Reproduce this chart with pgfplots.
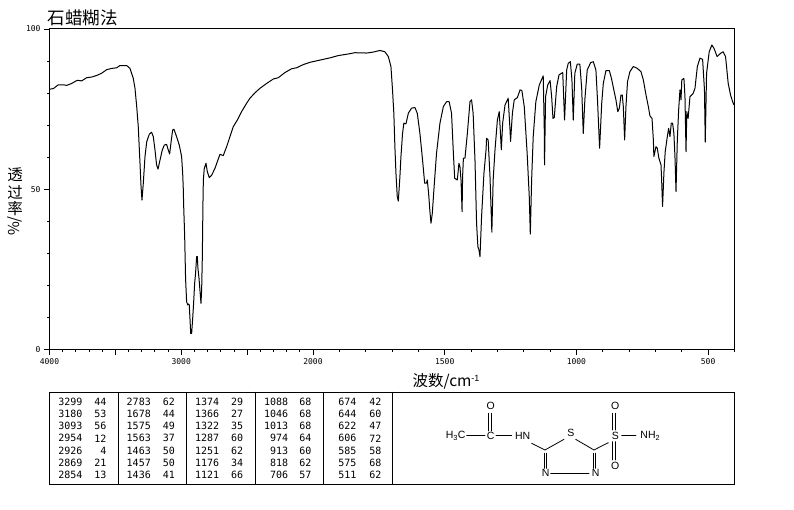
\documentclass[border=0pt]{standalone}
\usepackage{fontspec}
\setmainfont{Liberation Sans}
\setmonofont{DejaVu Sans Mono}
\newfontfamily\cjk{Noto Sans CJK SC}
\usepackage{pgfplots}
\usepackage{pgfplotstable}
\pgfplotsset{compat=1.18}

% wavenumber, %T
\pgfplotstableread{
w T
4000 81.2
3971 81.4
3933 82.6
3895 82.6
3870 82.4
3832 83.0
3789 84.0
3756 83.8
3718 84.8
3680 85.0
3642 85.5
3604 86.2
3566 87.3
3528 87.7
3490 87.9
3465 88.6
3414 88.6
3389 87.7
3364 84.6
3351 81.5
3338 75.8
3326 69.5
3313 58.1
3305 50.8
3298 46.6
3288 51.8
3275 60.2
3262 64.8
3242 67.2
3225 67.8
3212 66.4
3199 62.2
3187 57.6
3176 56.3
3161 59.1
3144 62.2
3128 63.8
3111 64.0
3098 62.2
3088 61.0
3075 65.4
3065 68.5
3055 68.7
3035 66.4
3015 63.8
2997 60.2
2989 55.0
2984 49.8
2982 45.6
2974 35.7
2967 22.2
2959 14.9
2951 13.9
2946 14.2
2939 13.9
2933 9.2
2928 5.0
2921 5.0
2913 9.7
2906 14.4
2898 20.7
2891 23.8
2883 29.0
2878 29.0
2873 25.3
2865 22.2
2858 18.6
2850 14.4
2845 18.6
2840 28.4
2835 45.6
2832 52.9
2825 56.5
2812 58.1
2802 55.5
2787 53.6
2769 54.4
2744 56.5
2726 58.6
2706 60.9
2681 60.5
2655 63.3
2630 66.4
2605 69.5
2574 71.6
2542 74.2
2504 76.8
2478 78.4
2440 80.1
2402 81.5
2352 83.0
2301 84.4
2263 84.8
2213 86.4
2162 87.6
2124 87.9
2073 88.9
2023 89.6
1973 90.3
1935 91.0
1904 91.7
1866 92.2
1841 92.6
1796 92.5
1771 92.8
1746 93.3
1727 92.9
1714 91.4
1704 88.3
1698 81.0
1693 73.7
1689 63.3
1685 55.0
1680 47.7
1676 46.3
1670 53.9
1666 60.2
1660 67.4
1655 70.6
1647 70.4
1638 73.7
1626 75.3
1613 75.5
1604 73.7
1594 67.4
1584 59.1
1576 51.9
1569 51.9
1566 52.9
1561 48.7
1556 43.0
1552 39.4
1547 42.5
1541 49.8
1531 61.2
1518 70.6
1505 75.8
1493 77.3
1483 77.3
1474 73.7
1467 61.2
1462 53.4
1452 52.9
1446 58.1
1442 57.0
1438 52.9
1434 43.0
1432 53.9
1429 59.7
1423 59.7
1414 67.4
1404 77.3
1398 77.9
1392 73.7
1385 59.1
1379 39.4
1374 32.1
1370 31.1
1366 29.0
1360 41.4
1351 55.0
1343 62.3
1341 65.9
1335 65.4
1328 53.9
1321 36.6
1316 52.9
1309 62.3
1300 71.6
1293 74.2
1289 68.5
1285 62.3
1280 70.6
1271 76.3
1259 78.4
1252 68.5
1250 64.9
1243 73.7
1236 77.9
1224 78.6
1214 81.0
1207 80.8
1198 75.8
1187 61.2
1179 47.7
1175 36.0
1170 52.9
1164 66.4
1154 77.3
1141 82.5
1126 85.4
1122 68.5
1121 57.6
1117 78.9
1109 82.5
1100 83.9
1094 78.9
1089 72.1
1084 72.4
1075 82.0
1066 85.7
1052 86.4
1045 71.6
1037 87.2
1031 89.3
1023 89.8
1017 84.1
1012 71.6
1006 86.2
997 89.0
987 89.0
980 81.5
974 67.4
968 77.9
959 87.2
946 89.5
936 89.8
926 87.2
920 77.9
912 62.8
904 76.8
898 83.0
888 87.0
875 87.0
867 84.6
858 81.0
850 77.9
843 74.2
837 75.3
831 79.4
826 79.4
822 75.8
817 65.4
812 75.8
806 83.6
797 86.7
784 88.3
769 87.7
755 86.7
746 84.1
737 79.9
727 75.8
721 72.9
713 72.1
708 65.4
706 60.2
698 63.3
693 62.8
687 59.7
679 57.6
677 53.9
673 44.6
668 55.0
663 61.7
655 66.4
650 69.0
645 66.4
640 70.6
635 70.6
630 67.4
626 60.2
622 49.3
617 65.4
612 74.7
607 81.0
603 77.9
600 84.1
592 84.6
588 78.9
584 61.7
581 74.2
576 72.1
569 78.9
557 79.9
550 81.5
541 88.3
531 90.9
521 90.5
514 81.0
511 64.7
506 86.2
496 92.9
486 95.0
478 94.0
466 91.4
453 92.4
443 92.9
434 91.4
424 83.1
415 79.4
407 77.3
402 76.3
}\irtrace

\begin{document}
\begin{tikzpicture}[x=1pt,y=1pt,line cap=round]
\path[use as bounding box] (0,0) rectangle (794,510);
\begin{axis}[
	at={(49.5pt,160.5pt)},
	anchor=south west,
	scale only axis,
	width=685pt,
	height=320.5pt,
	x dir=reverse,
	% the scale is twice as wide below 2000
	x coord trafo/.code={\pgfmathparse{#1>2000?#1:2*#1-2000}},
	xmin=400, xmax=4000,
	ymin=0, ymax=100,
	xtick={4000,3500,3000,2500,2000,1500,1000,500},
	xticklabels={4000,,3000,,2000,1500,1000,500},
	minor xtick={3900,3800,3700,3600,3400,3300,3200,3100,2900,2800,2700,2600,2400,2300,2200,2100,1900,1800,1700,1600,1400,1300,1200,1100,900,800,700,600,400},
	ytick={0,50,100},
	yticklabels={0,50,100},
	minor ytick={10,20,30,40,60,70,80,90},
	xtick pos=bottom,
	ytick pos=left,
	tick align=outside,
	major tick length=5.5pt,
	minor tick length=2.5pt,
	tick style={black,line width=0.8pt},
	axis line style={line width=1pt},
	tick label style={font=\fontsize{8}{8}\selectfont\ttfamily},
	xticklabel style={yshift=-0.5pt},
]
\addplot[black,line width=1pt,line join=round,no markers] table[x=w,y=T] {\irtrace};
\end{axis}

% titles
\node[anchor=west,inner sep=0,font=\fontsize{17.5}{18}\selectfont\cjk] at (47.5,492) {石蜡糊法};
\node[anchor=west,inner sep=0,font=\fontsize{15.5}{16}\selectfont] at (412.5,129) {{\cjk 波数/cm}\raisebox{5pt}{\fontsize{9}{9}\selectfont -1}};
\node[inner sep=0,font=\fontsize{15.5}{16}\selectfont\cjk] at (15,335) {透};
\node[inner sep=0,font=\fontsize{15.5}{16}\selectfont\cjk] at (15,318) {过};
\node[inner sep=0,font=\fontsize{15.5}{16}\selectfont\cjk] at (15,301) {率};
\node[inner sep=0,rotate=90,font=\fontsize{15}{16}\selectfont\cjk] at (15,284) {\%/};

% peak table
\draw[line width=1pt] (49.3,25.7) rectangle (734,117.6);
\foreach \x in {118.3,186.7,255.3,323.7,392.7}
	\draw[line width=1pt] (\x,25.7) -- (\x,117.6);
\foreach \xa/\xb/\rows in {
	82.7/106.7/{3299/44,3180/53,3093/56,2954/12,2926/4,2869/21,2854/13},
	151/175/{2783/62,1678/44,1575/49,1563/37,1463/50,1457/50,1436/41},
	219.3/243.3/{1374/29,1366/27,1322/35,1287/60,1251/62,1176/34,1121/66},
	288.3/311.7/{1088/68,1046/68,1013/68,974/64,913/60,818/62,706/57},
	356.7/381.7/{674/42,644/60,622/47,606/72,585/58,575/68,511/62}} {
	\foreach \a/\b [count=\i from 0] in \rows {
		\node[anchor=east,inner sep=0,font=\fontsize{10}{10}\selectfont\ttfamily] at (\xa,{108.3-12.2*\i}) {\a};
		\node[anchor=east,inner sep=0,font=\fontsize{10}{10}\selectfont\ttfamily] at (\xb,{108.3-12.2*\i}) {\b};
	}
}

% structure, in crop coordinates of the drawing
\begin{scope}[shift={(390,165)},x=0.3333pt,y=-0.3333pt,line width=0.8pt,
	every node/.style={inner sep=0,font=\fontsize{10.5}{11}\selectfont}]
\node at (197,272) {H$_{\mathrm{3}}$C};
\node at (302,272) {C};
\node at (302,182) {O};
\node at (398,272) {HN};
\node at (543,263) {S};
\node at (467,384) {N};
\node at (617,384) {N};
\node at (676,272) {S};
\node at (676,182) {O};
\node at (676,362) {O};
\node at (781,272) {NH$_{\mathrm{2}}$};
\draw (230,272) -- (285,272);
\draw (318,272) -- (365,272);
\draw (295,205) -- (295,258);
\draw (303,205) -- (303,258);
\draw (425,295) -- (465,315) -- (522,283);
\draw (557,283) -- (612,315) -- (655,293);
\draw (462,325) -- (462,370);
\draw (469,325) -- (469,370);
\draw (609,325) -- (609,370);
\draw (616,325) -- (616,370);
\draw (482,384) -- (597,384);
\draw (668,205) -- (668,255);
\draw (675,205) -- (675,255);
\draw (668,290) -- (668,345);
\draw (675,290) -- (675,345);
\draw (695,272) -- (738,272);
\end{scope}
\end{tikzpicture}
\end{document}
